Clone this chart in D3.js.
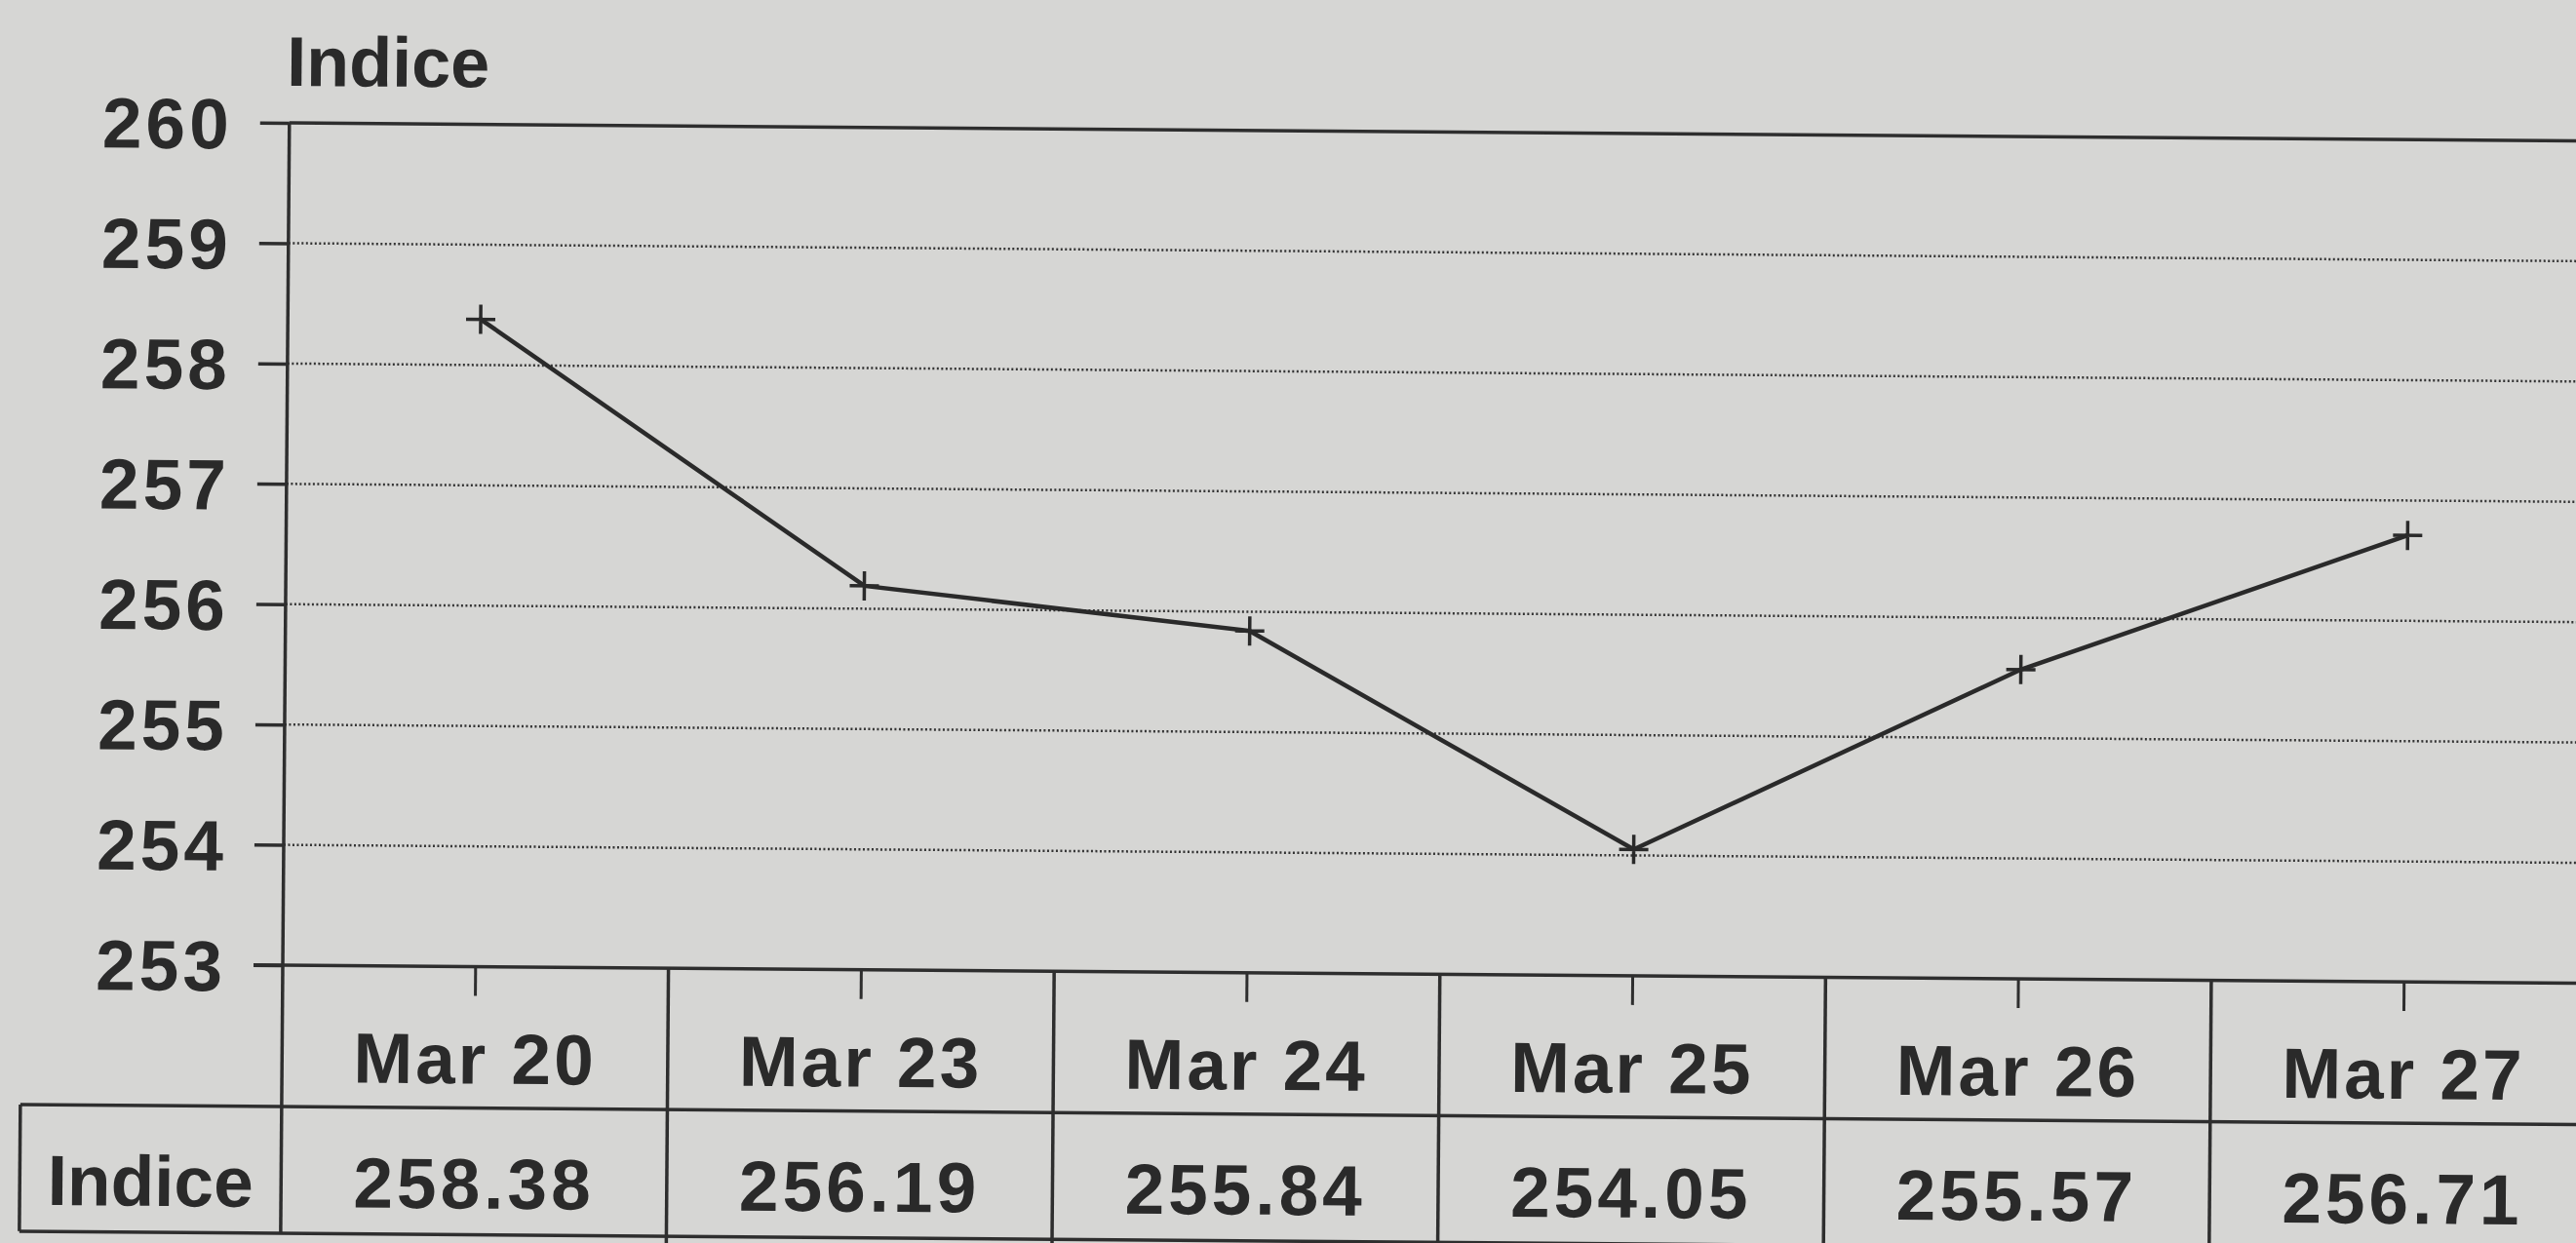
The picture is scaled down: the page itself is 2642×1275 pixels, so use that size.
<!DOCTYPE html>
<html lang="en">
<head>
	<meta charset="UTF-8">
    <title>Indice</title>
    <script type="text/javascript" src="https://cdn.jsdelivr.net/npm/d3@7/dist/d3.min.js"></script>
    <style>
        body { margin: 0; background: #d6d6d4; }
        svg { display: block; }
        text { font-family: "Liberation Sans", Arial, Helvetica, sans-serif; font-weight: bold; fill: #2a2a2a; }
    </style>
</head>
<body>
    <div id="chart"></div>
	<script>
    // data
    var seriesName = "Indice";
    var categories = ["Mar 20", "Mar 23", "Mar 24", "Mar 25", "Mar 26", "Mar 27"];
    var values = [258.38, 256.19, 255.84, 254.05, 255.57, 256.71];
    var yTicks = [253, 254, 255, 256, 257, 258, 259, 260];

    var width = 2642;
    var height = 1275;
    var ink = "#2e2e2e";

    // plot box (the last column runs off the right edge like in the scan)
    var plotLeft = 290, plotTop = 126, plotBottom = 990;
    var colWidth = 395.6;
    var tableLeft = 22;
    var row1 = 1135, row2 = 1265;

    var svg = d3.select("#chart")
        .append("svg")
        .attr("width", width)
        .attr("height", height);

    // scanned page is a little tilted
    var g = svg.append("g")
        .attr("transform", "rotate(0.45," + plotLeft + "," + plotBottom + ")");

    var x = d3.scaleBand()
        .domain(categories)
        .range([plotLeft, plotLeft + colWidth * categories.length])
        .paddingInner(0)
        .paddingOuter(0);

    var y = d3.scaleLinear()
        .domain([d3.min(yTicks), d3.max(yTicks)])
        .range([plotBottom, plotTop]);

    // dotted gridlines, solid line on top
    g.selectAll(".grid")
        .data(yTicks.slice(1))
        .enter().append("line")
        .attr("class", "grid")
        .attr("x1", plotLeft)
        .attr("x2", width + 40)
        .attr("y1", function(d) { return y(d); })
        .attr("y2", function(d) { return y(d); })
        .style("stroke", function(d) { return d === d3.max(yTicks) ? ink : "#333"; })
        .style("stroke-width", function(d) { return d === d3.max(yTicks) ? 3.5 : 2.5; })
        .style("stroke-dasharray", function(d) { return d === d3.max(yTicks) ? null : "2,2.5"; });

    // y axis ticks + labels
    var yAxis = g.append("g")
        .attr("transform", "translate(" + plotLeft + ",0)")
        .call(d3.axisLeft(y).tickValues(yTicks).tickSize(30).tickPadding(28).tickFormat(d3.format("d")));
    yAxis.select(".domain").remove();
    yAxis.selectAll(".tick line").style("stroke", ink).style("stroke-width", 3.5);
    yAxis.selectAll(".tick text")
        .style("font-size", "73px")
        .style("letter-spacing", "4px")
        .attr("dy", "0.36em")
        .style("font-family", "'Liberation Sans', Arial, sans-serif")
        .style("font-weight", "bold")
        .style("fill", "#2a2a2a");

    // x axis ticks going down into the table
    var xAxis = g.append("g")
        .attr("transform", "translate(0," + plotBottom + ")")
        .call(d3.axisBottom(x).tickSize(30).tickSizeOuter(0).tickFormat(""));
    xAxis.select(".domain").remove();
    xAxis.selectAll(".tick line").style("stroke", ink).style("stroke-width", 3);

    // table lines
    var hLines = [
        { x1: plotLeft - 30, x2: width + 40, y: plotBottom },
        { x1: tableLeft, x2: width + 40, y: row1 },
        { x1: tableLeft, x2: width + 40, y: row2 }
    ];
    g.selectAll(".hline")
        .data(hLines)
        .enter().append("line")
        .attr("class", "hline")
        .attr("x1", function(d) { return d.x1; })
        .attr("x2", function(d) { return d.x2; })
        .attr("y1", function(d) { return d.y; })
        .attr("y2", function(d) { return d.y; })
        .style("stroke", ink)
        .style("stroke-width", 3.5);

    // y axis line runs down through the table
    g.append("line")
        .attr("x1", plotLeft).attr("x2", plotLeft)
        .attr("y1", plotTop).attr("y2", row2)
        .style("stroke", ink).style("stroke-width", 3.5);
    g.append("line")
        .attr("x1", tableLeft).attr("x2", tableLeft)
        .attr("y1", row1).attr("y2", row2)
        .style("stroke", ink).style("stroke-width", 3.5);

    g.selectAll(".vline")
        .data(categories.slice(1))
        .enter().append("line")
        .attr("class", "vline")
        .attr("x1", function(d) { return x(d); })
        .attr("x2", function(d) { return x(d); })
        .attr("y1", plotBottom)
        .attr("y2", row2 + 20)
        .style("stroke", ink)
        .style("stroke-width", 3.5);

    // table text
    g.selectAll(".cat")
        .data(categories)
        .enter().append("text")
        .attr("class", "cat")
        .attr("x", function(d) { return x(d) + x.bandwidth() / 2; })
        .attr("y", 1110)
        .attr("text-anchor", "middle")
        .style("font-size", "73px")
        .style("letter-spacing", "3px")
        .text(function(d) { return d; });

    g.selectAll(".val")
        .data(values)
        .enter().append("text")
        .attr("class", "val")
        .attr("x", function(d, i) { return x(categories[i]) + x.bandwidth() / 2; })
        .attr("y", 1238)
        .attr("text-anchor", "middle")
        .style("font-size", "73px")
        .style("letter-spacing", "4px")
        .text(function(d) { return d3.format(".2f")(d); });

    g.append("text")
        .attr("x", (tableLeft + plotLeft) / 2)
        .attr("y", 1238)
        .attr("text-anchor", "middle")
        .style("font-size", "73px")
        .text(seriesName);

    // title above the axis
    g.append("text")
        .attr("x", 287)
        .attr("y", 88)
        .style("font-size", "72px")
        .text(seriesName);

    // the series line
    var line = d3.line()
        .x(function(d, i) { return x(categories[i]) + x.bandwidth() / 2; })
        .y(function(d) { return y(d); });

    g.append("path")
        .datum(values)
        .attr("d", line)
        .style("fill", "none")
        .style("stroke", "#2a2a2a")
        .style("stroke-width", 4.5);

    // + markers
    g.selectAll(".mark")
        .data(values)
        .enter().append("path")
        .attr("class", "mark")
        .attr("d", "M-15,0H15M0,-15V15")
        .attr("transform", function(d, i) {
            return "translate(" + (x(categories[i]) + x.bandwidth() / 2) + "," + y(d) + ")";
        })
        .style("stroke", "#2a2a2a")
        .style("stroke-width", 3.5)
        .style("fill", "none");
  </script>
</body>
</html>
